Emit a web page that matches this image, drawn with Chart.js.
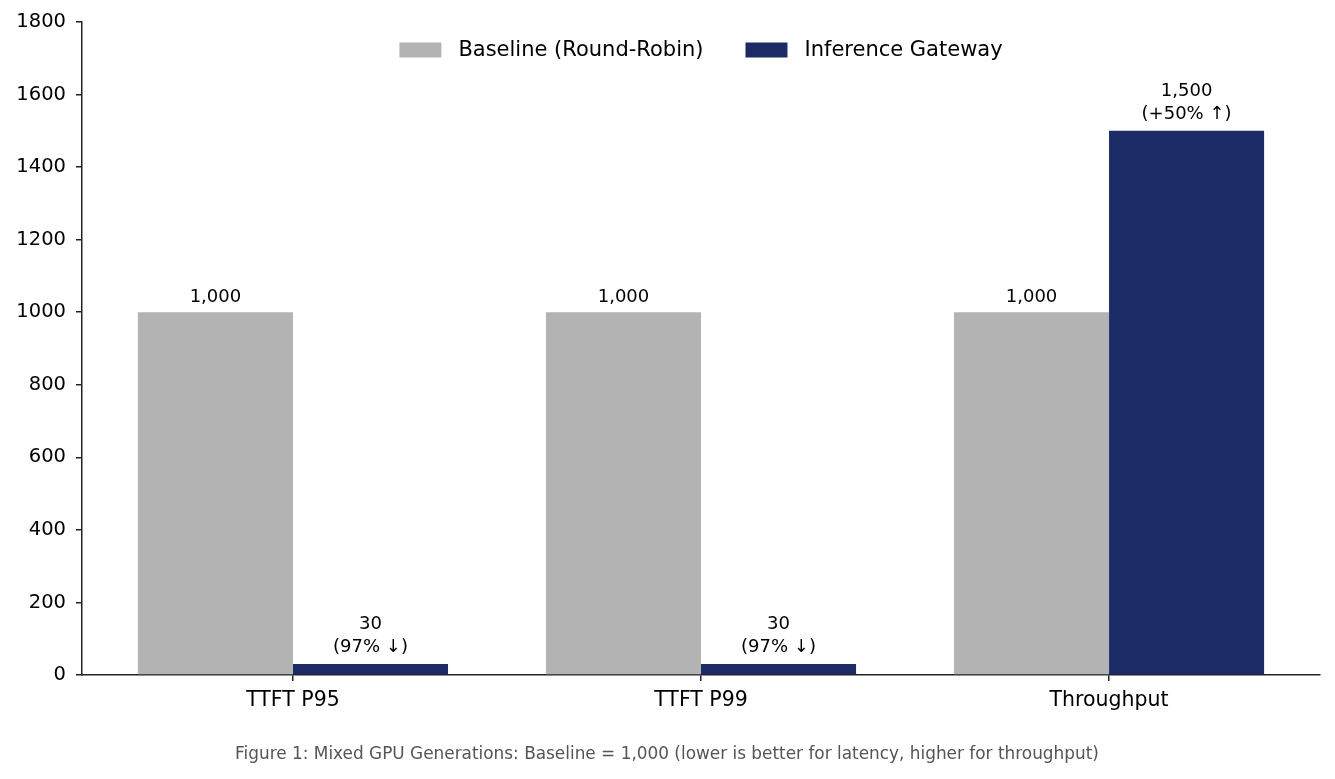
<!DOCTYPE html>
<html lang="en">
<head>
    <meta charset="UTF-8">
    <title>Mixed GPU Generations</title>
    <style>
        html, body { margin: 0; padding: 0; background: #fff; font-family: "DejaVu Sans", sans-serif; }
        #wrap { width: 1335px; height: 779px; }
    </style>
</head>
<body>
    <div id="wrap"><canvas id="chart" width="1335" height="779"></canvas></div>

    <script src="https://cdn.jsdelivr.net/npm/chart.js"></script>
    <script>
        var categories = ['TTFT P95', 'TTFT P99', 'Throughput'];
        var baselineValues = [1000, 1000, 1000];
        var gatewayValues = [30, 30, 1500];
        var baselineLabels = [['1,000'], ['1,000'], ['1,000']];
        var gatewayLabels = [['30', '(97% \u2193)'], ['30', '(97% \u2193)'], ['1,500', '(+50% \u2191)']];
        var yTicks = [0, 200, 400, 600, 800, 1000, 1200, 1400, 1600, 1800];
        var seriesNames = ['Baseline (Round-Robin)', 'Inference Gateway'];
        var seriesColors = ['#b3b3b3', '#1c2a66'];
        var caption = 'Figure 1: Mixed GPU Generations: Baseline = 1,000 (lower is better for latency, higher for throughput)';

        var FONT = '"DejaVu Sans", sans-serif';
        Chart.defaults.font.family = FONT;

        // value labels above each bar
        var barLabels = {
            id: 'barLabels',
            afterDatasetsDraw: function(chart) {
                var ctx = chart.ctx;
                var all = [baselineLabels, gatewayLabels];
                ctx.save();
                ctx.font = '18px ' + FONT;
                ctx.fillStyle = '#000';
                ctx.textAlign = 'center';
                ctx.textBaseline = 'alphabetic';
                all.forEach(function(lbls, d) {
                    chart.getDatasetMeta(d).data.forEach(function(bar, i) {
                        var lines = lbls[i];
                        var lift = lines.length > 1 ? 12 : 10;
                        for (var k = 0; k < lines.length; k++) {
                            var y = bar.y - lift - (lines.length - 1 - k) * 23;
                            ctx.fillText(lines[k], bar.x, y);
                        }
                    });
                });
                ctx.restore();
            }
        };

        // legend inside the plot + caption under it
        var extras = {
            id: 'extras',
            afterDraw: function(chart) {
                var ctx = chart.ctx;
                ctx.save();
                ctx.font = '21px ' + FONT;
                ctx.textBaseline = 'middle';
                ctx.textAlign = 'left';
                var boxW = 42, boxH = 15, gap = 17, itemGap = 42;
                var widths = seriesNames.map(function(n) { return boxW + gap + ctx.measureText(n).width; });
                var total = widths[0] + widths[1] + itemGap;
                var x = (chart.chartArea.left + chart.chartArea.right) / 2 - total / 2;
                var y = 50;
                seriesNames.forEach(function(n, i) {
                    ctx.fillStyle = seriesColors[i];
                    ctx.fillRect(x, y - boxH / 2, boxW, boxH);
                    ctx.fillStyle = '#000';
                    ctx.fillText(n, x + boxW + gap, y + 1);
                    x += widths[i] + itemGap;
                });
                ctx.font = '16.9px ' + FONT;
                ctx.fillStyle = '#555';
                ctx.textAlign = 'center';
                ctx.fillText(caption, 667, 755);
                ctx.restore();
            }
        };

        function draw() {
            var ctx = document.getElementById('chart').getContext('2d');
            new Chart(ctx, {
                type: 'bar',
                data: {
                    datasets: [
                        {
                            label: seriesNames[0],
                            data: baselineValues.map(function(v, i) { return { x: i, y: v }; }),
                            backgroundColor: seriesColors[0],
                            borderWidth: 0
                        },
                        {
                            label: seriesNames[1],
                            data: gatewayValues.map(function(v, i) { return { x: i, y: v }; }),
                            backgroundColor: seriesColors[1],
                            borderWidth: 0
                        }
                    ]
                },
                options: {
                    responsive: false,
                    animation: false,
                    devicePixelRatio: 1,
                    barPercentage: 1,
                    categoryPercentage: 0.76,
                    layout: { padding: { left: 0, right: 15, top: 22, bottom: 0 } },
                    plugins: {
                        legend: { display: false },
                        tooltip: { enabled: false }
                    },
                    scales: {
                        x: {
                            type: 'linear',
                            min: -0.517,
                            max: 2.517,
                            offset: false,
                            afterBuildTicks: function(scale) {
                                scale.ticks = categories.map(function(c, i) { return { value: i }; });
                            },
                            afterFit: function(scale) { scale.height = 104; },
                            ticks: {
                                color: '#000',
                                font: { family: FONT, size: 20.5 },
                                padding: 7,
                                maxRotation: 0,
                                callback: function(v) { return categories[v]; }
                            },
                            grid: {
                                offset: false,
                                drawOnChartArea: false,
                                drawTicks: true,
                                tickLength: 6,
                                color: '#222',
                                lineWidth: 1.5
                            },
                            border: { display: true, color: '#222', width: 1.5 }
                        },
                        y: {
                            min: 0,
                            max: 1800,
                            afterBuildTicks: function(scale) {
                                scale.ticks = yTicks.map(function(v) { return { value: v }; });
                            },
                            afterFit: function(scale) { scale.width = 82; },
                            ticks: {
                                color: '#000',
                                font: { family: FONT, size: 19.5 },
                                padding: 10,
                                callback: function(v) { return String(v); }
                            },
                            grid: {
                                drawOnChartArea: false,
                                drawTicks: true,
                                tickLength: 6,
                                color: '#222',
                                lineWidth: 1.5
                            },
                            border: { display: true, color: '#222', width: 1.5 }
                        }
                    }
                },
                plugins: [barLabels, extras]
            });
        }

        if (document.fonts && document.fonts.load) {
            document.fonts.load('18px "DejaVu Sans"').then(draw, draw);
        } else {
            draw();
        }
    </script>
</body>
</html>
